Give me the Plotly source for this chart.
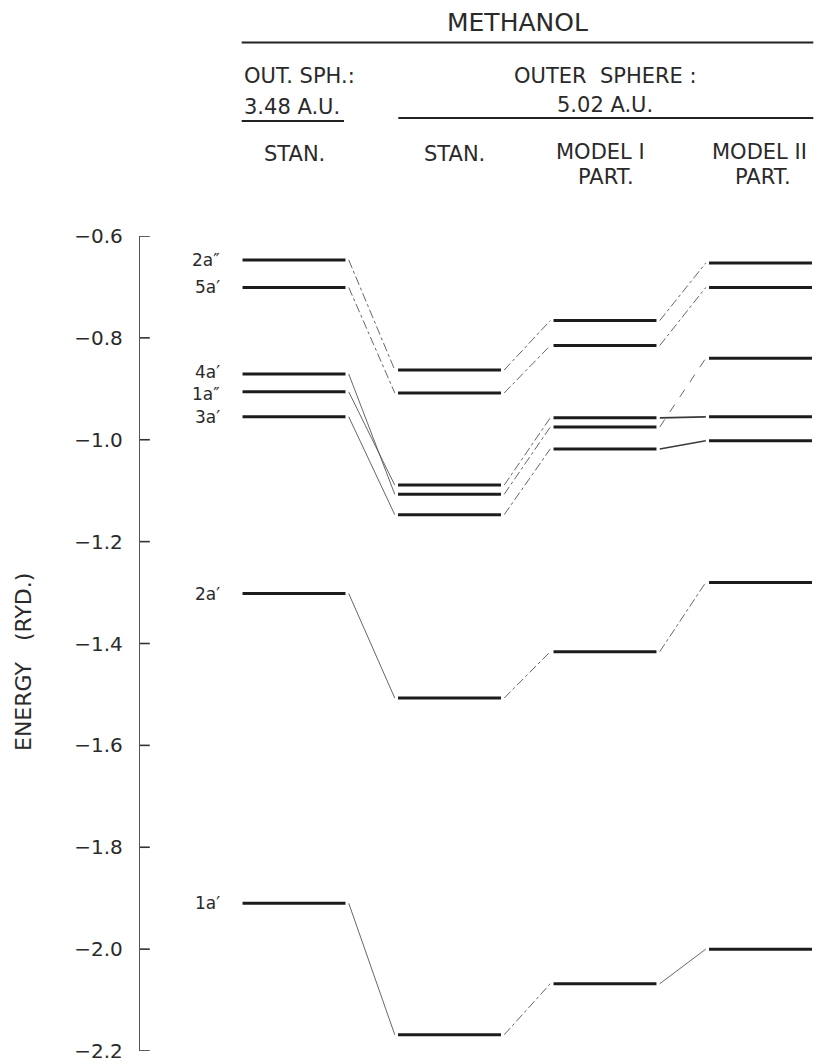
import plotly.graph_objects as go

# ---------------- data ----------------
orbitals = ["2a″", "5a′", "4a′", "1a″", "3a′", "2a′", "1a′"]
columns = ["STAN. (3.48 A.U.)", "STAN. (5.02 A.U.)", "MODEL I PART.", "MODEL II PART."]
stan_348 = [-0.647, -0.701, -0.871, -0.906, -0.955, -1.302, -1.910]
stan_502 = [-0.863, -0.908, -1.107, -1.089, -1.147, -1.507, -2.168]
model1_part = [-0.766, -0.815, -0.975, -0.957, -1.018, -1.416, -2.068]
model2_part = [-0.653, -0.701, -0.840, -0.955, -1.002, -1.280, -2.000]
y_ticks = [-0.6, -0.8, -1.0, -1.2, -1.4, -1.6, -1.8, -2.0, -2.2]

levels = [stan_348, stan_502, model1_part, model2_part]

# ---------------- layout helpers ----------------
W, H = 821, 1064
ML, MR, MT, MB = 140, 0, 236, 13
PW, PH = W - ML - MR, H - MT - MB
HW = 0.331      # half width of a level bar (in column units)
GAP = 0.352     # where connectors start/end relative to column centre
FONT = "DejaVu Sans"
TXT = "#2a2a2a"
X_RANGE = [(140 - 294) / 155.5, (821 - 294) / 155.5]


def pxx(px):
    return (px - ML) / PW


def pxy(py):
    return (H - MB - py) / PH


fig = go.Figure()

# connectors between adjacent columns
styles = [
    ["dashdot", "dashdot", "solid", "solid", "solid", "solid", "solid"],
    ["dashdot"] * 7,
    ["dashdot", "dashdot", "dash", "solid", "solid", "dashdot", "solid"],
]
for c in range(3):
    for k in range(len(orbitals)):
        y0, y1 = levels[c][k], levels[c + 1][k]
        flat = abs(y1 - y0) < 0.03
        fig.add_trace(go.Scatter(
            x=[c + GAP, c + 1 - GAP], y=[y0, y1], mode="lines",
            line=dict(color="#3a3a3a" if flat else "#555555",
                      width=1.6 if flat else 0.9, dash=styles[c][k]),
            hoverinfo="skip", showlegend=False))

# energy levels
for c, vals in enumerate(levels):
    xs, ys = [], []
    for v in vals:
        xs += [c - HW, c + HW, None]
        ys += [v, v, None]
    fig.add_trace(go.Scatter(x=xs, y=ys, mode="lines",
                             line=dict(color="#1c1c1c", width=3),
                             name=columns[c], hoverinfo="skip", showlegend=False))

# inward-pointing tick marks on the energy axis (half of each marker is clipped)
fig.add_trace(go.Scatter(
    x=[X_RANGE[0]] * len(y_ticks), y=y_ticks, mode="markers",
    marker=dict(symbol="line-ew", size=14,
                line=dict(color="#333333", width=1.6)),
    cliponaxis=True, hoverinfo="skip", showlegend=False))

annotations = []
# orbital labels left of first column
label_shift = {"4a′": 2, "1a″": -2}
for name, v in zip(orbitals, stan_348):
    annotations.append(dict(x=-0.463, y=v, xref="x", yref="y", text=name,
                            showarrow=False, xanchor="right", yanchor="middle",
                            yshift=label_shift.get(name, 0),
                            font=dict(family=FONT, size=17, color=TXT)))

# header texts (pixel positions converted to paper coordinates)
def head(text, px, py, size=21, anchor="center"):
    annotations.append(dict(x=pxx(px), y=pxy(py), xref="paper", yref="paper",
                            text=text, showarrow=False, xanchor=anchor,
                            yanchor="middle",
                            font=dict(family=FONT, size=size, color=TXT)))

head("METHANOL", 517.5, 23, size=25)
head("OUT. SPH.:", 241.7, 76, anchor="left")
head("3.48 A.U.", 241.7, 106.5, anchor="left")
head("OUTER  SPHERE :", 605.5, 76)
head("5.02 A.U.", 605, 105)
head("STAN.", 294, 154)
head("STAN.", 454, 154)
head("MODEL I", 600, 152)
head("PART.", 605.5, 177.5)
head("MODEL II", 759, 152)
head("PART.", 763, 177.5)

# y axis title
annotations.append(dict(x=pxx(23), y=pxy(662), xref="paper", yref="paper",
                        text="ENERGY   (RYD.)", textangle=-90, showarrow=False,
                        xanchor="center", yanchor="middle",
                        font=dict(family=FONT, size=22, color=TXT)))

shapes = []
for x0, x1, yy in [(241.7, 813.3, 42.5), (241.7, 344, 121), (398.3, 813.3, 118)]:
    shapes.append(dict(type="line", xref="paper", yref="paper",
                       x0=pxx(x0), x1=pxx(x1), y0=pxy(yy), y1=pxy(yy),
                       line=dict(color="#222222", width=2)))

fig.update_layout(
    width=W, height=H,
    margin=dict(l=ML, r=MR, t=MT, b=MB),
    paper_bgcolor="white", plot_bgcolor="white",
    showlegend=False, hovermode=False,
    annotations=annotations, shapes=shapes,
    xaxis=dict(range=X_RANGE, showgrid=False, zeroline=False, showline=False,
               showticklabels=False, ticks="", fixedrange=True),
    yaxis=dict(range=[-2.2, -0.6], tickmode="array", tickvals=y_ticks,
               tickformat=".1f", ticks="", showline=True, linecolor="#555555",
               linewidth=1.3, showgrid=False, zeroline=False,
               ticklabelstandoff=12,
               tickfont=dict(family=FONT, size=20, color=TXT),
               fixedrange=True),
)

fig.write_html(
    "out.html",
    config={"displayModeBar": False},
    post_script="document.body.style.margin='0';document.body.style.overflow='hidden';",
)
